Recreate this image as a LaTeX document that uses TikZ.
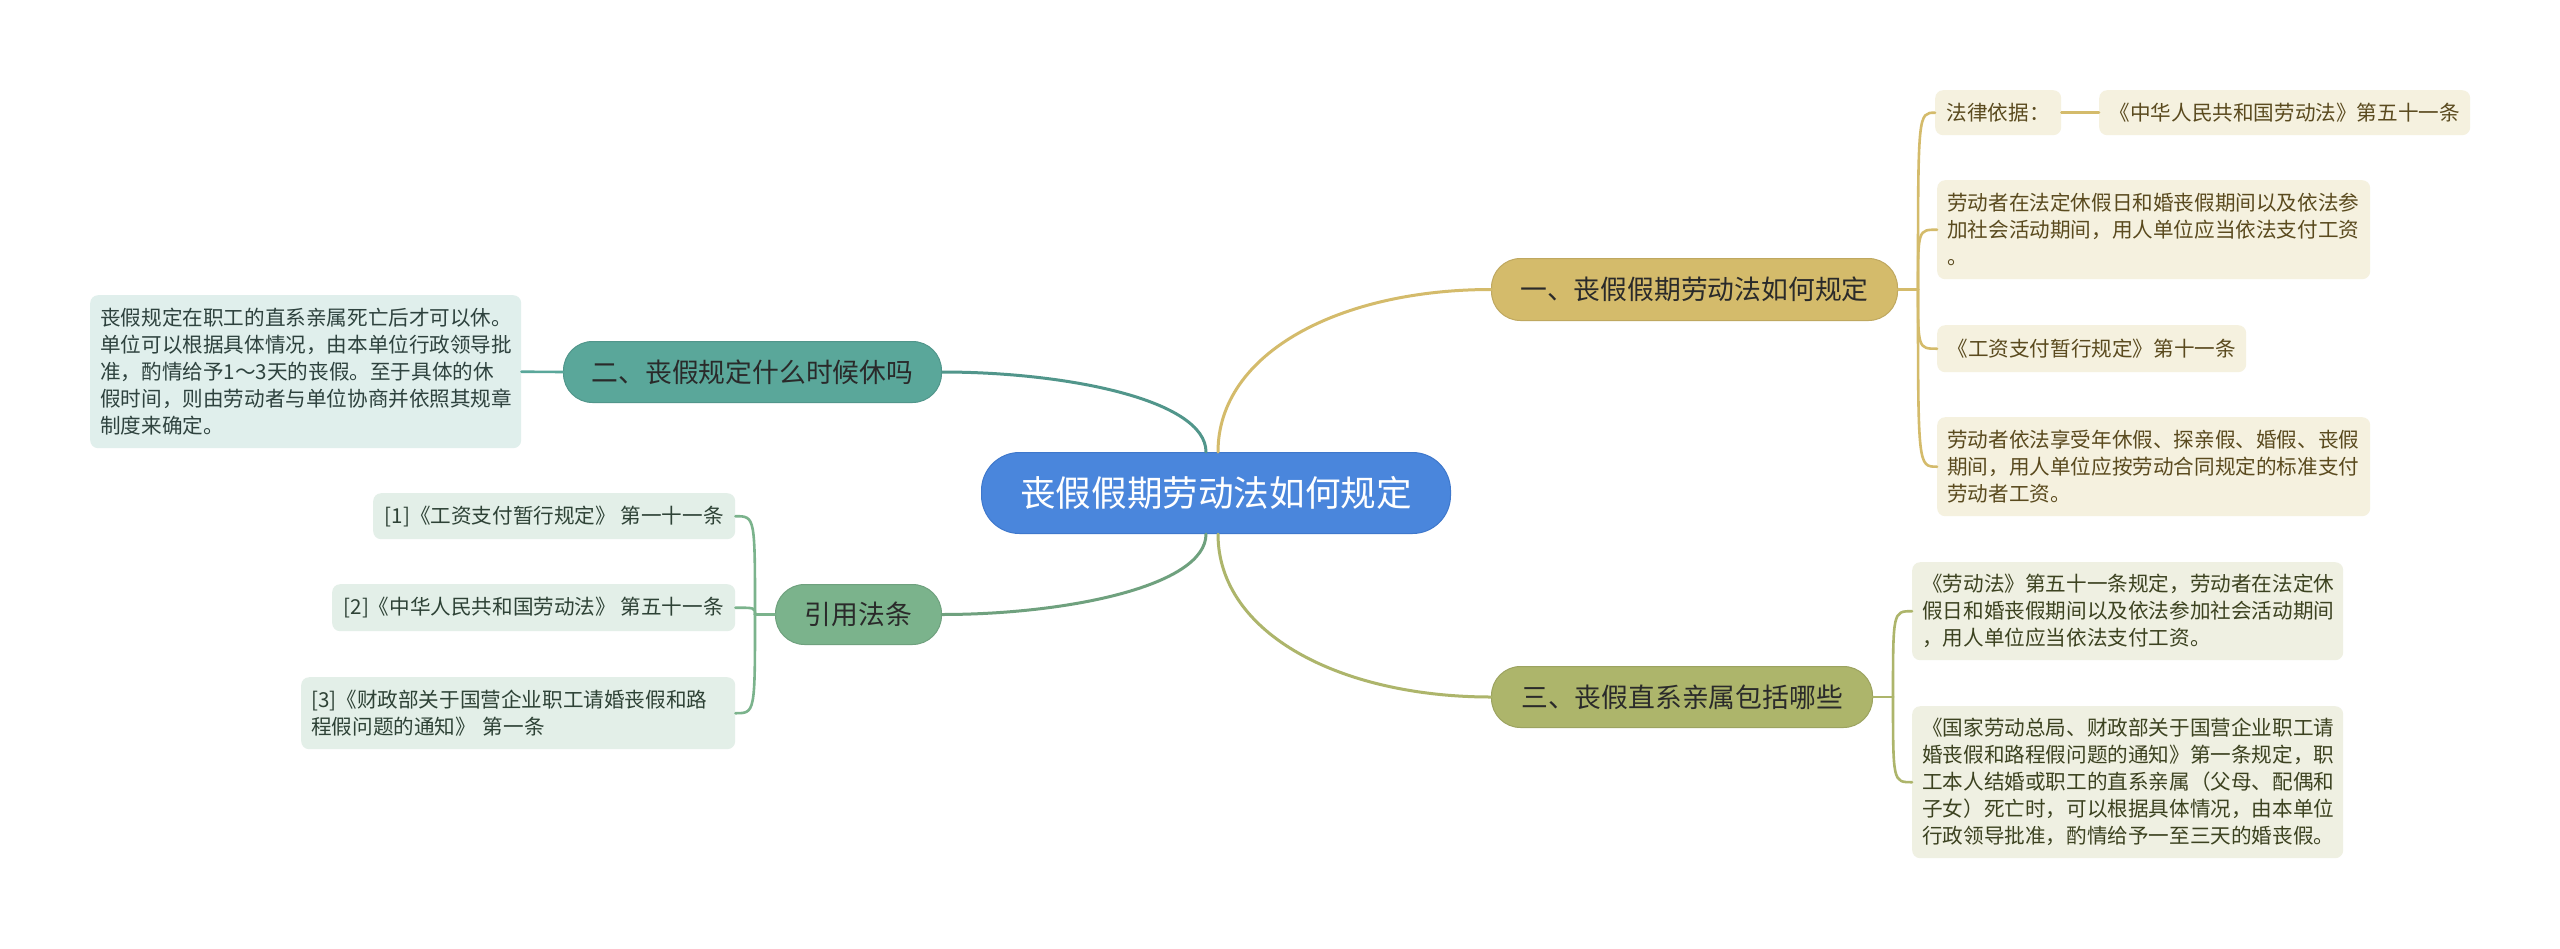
\documentclass[tikz,border=0pt]{standalone}
\usepackage{fontspec}
\setmainfont{Noto Sans CJK SC}
\usetikzlibrary{calc}
\definecolor{cC}{HTML}{4A86DC}
\definecolor{cCd}{HTML}{3F78CC}
\definecolor{cBa}{HTML}{D4BB6B}
\definecolor{cBc}{HTML}{ADB56B}
\definecolor{cBb}{HTML}{5AA79A}
\definecolor{cBr}{HTML}{7BB38C}
\definecolor{fBa}{HTML}{F5F1DF}
\definecolor{fBc}{HTML}{EFF0E2}
\definecolor{fBb}{HTML}{E0EFEC}
\definecolor{fBr}{HTML}{E3EFE8}
\definecolor{tBa}{HTML}{5A4A1E}
\definecolor{tBc}{HTML}{3C4220}
\definecolor{tBb}{HTML}{2E423E}
\definecolor{tBr}{HTML}{2E4236}
\definecolor{tBr0}{HTML}{2A2A2A}
\begin{document}
\begin{tikzpicture}[x=1pt,y=-1pt,
  central/.style={fill=cC, draw=cCd, line width=1pt, rounded corners=38pt, anchor=north west, inner sep=0pt, text=white, font=\fontsize{35.6}{40}\selectfont},
  branch/.style={rounded corners=29pt, anchor=north west, inner sep=0pt, text=tBr0, line width=1pt, font=\fontsize{26.8}{32}\selectfont},
  leaf/.style={rounded corners=8pt, anchor=north west, inner xsep=10pt, inner ysep=0pt, font=\fontsize{20.6}{27}\selectfont},
  multi/.style={leaf, align=left, text width=#1},
  lnk/.style={line width=3pt, line cap=round},
  sub/.style={line width=2.6pt, line cap=round}]
\useasboundingbox (0,0) rectangle (2560,948);
\fill[white] (0,0) rectangle (2560,948);

% central and branches
\node[central, minimum width=469pt, minimum height=81pt] (c) at (981,452) {丧假假期劳动法如何规定};
\node[branch, fill=cBa, draw=cBa!90!black, minimum width=406pt, minimum height=62pt] (b1) at (1491,258) {一、丧假假期劳动法如何规定};
\node[branch, fill=cBc, draw=cBc!90!black, minimum width=381pt, minimum height=61pt] (b3) at (1491,666) {三、丧假直系亲属包括哪些};
\node[branch, fill=cBb, draw=cBb!90!black, minimum width=378pt, minimum height=61pt] (b2) at (563,341) {二、丧假规定什么时候休吗};
\node[branch, fill=cBr, draw=cBr!90!black, minimum width=166pt, minimum height=60pt] (br) at (775,584) {引用法条};

% branch 1 leaves
\node[leaf, fill=fBa, text=tBa, minimum width=126pt, minimum height=45pt] (l1a) at (1935,90) {法律依据：};
\node[leaf, fill=fBa, text=tBa, minimum width=371pt, minimum height=45pt] (l1b) at (2099,90) {《中华人民共和国劳动法》第五十一条};
\node[multi=413pt, fill=fBa, text=tBa, minimum height=99pt] (l1c) at (1937,180) {劳动者在法定休假日和婚丧假期间以及依法参\\加社会活动期间，用人单位应当依法支付工资\\。};
\node[leaf, fill=fBa, text=tBa, minimum width=309pt, minimum height=47pt] (l1d) at (1937,325) {《工资支付暂行规定》第十一条};
\node[multi=413pt, fill=fBa, text=tBa, minimum height=99pt] (l1e) at (1937,417) {劳动者依法享受年休假、探亲假、婚假、丧假\\期间，用人单位应按劳动合同规定的标准支付\\劳动者工资。};

% branch 3 leaves
\node[multi=411pt, fill=fBc, text=tBc, minimum height=98pt] (l3a) at (1912,562) {《劳动法》第五十一条规定，劳动者在法定休\\假日和婚丧假期间以及依法参加社会活动期间\\，用人单位应当依法支付工资。};
\node[multi=411pt, fill=fBc, text=tBc, minimum height=152pt] (l3b) at (1912,706) {《国家劳动总局、财政部关于国营企业职工请\\婚丧假和路程假问题的通知》第一条规定，职\\工本人结婚或职工的直系亲属（父母、配偶和\\子女）死亡时，可以根据具体情况，由本单位\\行政领导批准，酌情给予一至三天的婚丧假。};

% branch 2 leaf
\node[multi=411pt, fill=fBb, text=tBb, minimum height=153pt] (l2) at (90,295) {丧假规定在职工的直系亲属死亡后才可以休。\\单位可以根据具体情况，由本单位行政领导批\\准，酌情给予1～3天的丧假。至于具体的休\\假时间，则由劳动者与单位协商并依照其规章\\制度来确定。};

% references
\node[leaf, fill=fBr, text=tBr, minimum width=362pt, minimum height=46pt] (r1) at (373,493) {[1]《工资支付暂行规定》 第一十一条};
\node[leaf, fill=fBr, text=tBr, minimum width=403pt, minimum height=47pt] (r2) at (332,584) {[2]《中华人民共和国劳动法》 第五十一条};
\node[multi=414pt, fill=fBr, text=tBr, minimum height=72pt] (r3) at (301,677) {[3]《财政部关于国营企业职工请婚丧假和路\\程假问题的通知》 第一条};

% main connectors
\draw[lnk, cBa] ($(c.north)+(2,0)$) .. controls +(0,-100) and +(-150,0) .. (b1.west);
\draw[lnk, cBc] ($(c.south)+(2,0)$) .. controls +(0,100) and +(-150,0) .. (b3.west);
\draw[lnk, cBb!90!black] ($(c.north)+(-10,0)$) .. controls +(0,-52) and +(125,0) .. (b2.east);
\draw[lnk, cBr!90!black] ($(c.south)+(-10,0)$) .. controls +(0,52) and +(125,0) .. (br.east);

% branch 1 sub connectors
\draw[sub, cBa] (b1.east) -- ++(20,0) coordinate (j1);
\foreach \n in {l1a,l1c,l1d,l1e}
  \draw[sub, cBa] (j1) .. controls (j1 |- \n.west) .. (\n.west);
\draw[sub, cBa] (l1a.east) -- (l1b.west);

% branch 3 sub connectors
\draw[sub, cBc] (b3.east) -- ++(20,0) coordinate (j3);
\foreach \n in {l3a,l3b}
  \draw[sub, cBc] (j3) .. controls (j3 |- \n.west) .. (\n.west);

% branch 2 connector
\draw[sub, cBb] (b2.west) -- (l2.east);

% references connectors
\draw[sub, cBr] (br.west) -- ++(-20,0) coordinate (jr);
\foreach \n in {r1,r2,r3}
  \draw[sub, cBr] (jr) .. controls (jr |- \n.east) .. (\n.east);
\end{tikzpicture}
\end{document}
